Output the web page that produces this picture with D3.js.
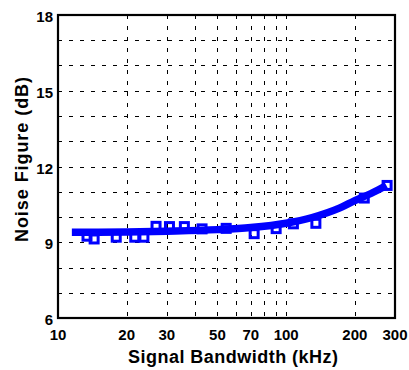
<!DOCTYPE html>
<html><head><meta charset="utf-8">
<script src="https://cdn.jsdelivr.net/npm/d3@7"></script>
<style>html,body{margin:0;padding:0;background:#fff;}svg{display:block;}</style>
</head><body>
<script>
// Measured data (squares)
const measFreq = [13.4, 14.4, 18, 21.7, 23.8, 26.9, 30.8, 35.8, 42.8, 54.6, 72.4, 90.4, 107.6, 135, 220, 277];
const measNF   = [9.24, 9.13, 9.2, 9.2, 9.2, 9.63, 9.62, 9.62, 9.53, 9.55, 9.34, 9.54, 9.73, 9.75, 10.75, 11.25];
// Fitted curve
const fitFreq = [11.5, 15, 20, 30, 50, 70, 100, 130, 170, 200, 240, 275];
const fitNF   = [9.4, 9.4, 9.41, 9.44, 9.5, 9.58, 9.75, 9.98, 10.34, 10.65, 10.97, 11.25];
// Axes
const xTickLabels = [10, 20, 30, 50, 70, 100, 200, 300];
const xGrid = [20, 30, 40, 50, 60, 70, 80, 90, 100, 200];
const yTickLabels = [6, 9, 12, 15, 18];
const yGrid = [7, 8, 9, 10, 11, 12, 13, 14, 15, 16, 17];

const W = 409, H = 370;
const L = 58, R = 395, T = 15, B = 318;
const svg = d3.select("body").append("svg").attr("width", W).attr("height", H);
const x = d3.scaleLog().domain([10, 300]).range([L, R]);
const y = d3.scaleLinear().domain([6, 18]).range([B, T]);
const font = "'Liberation Sans', Arial, Helvetica, sans-serif";

// grid
const g = svg.append("g").attr("stroke", "#000").attr("stroke-width", 1).attr("stroke-dasharray", "4,7");
g.selectAll("line.v").data(xGrid).join("line").attr("class","v")
  .attr("x1", d => Math.round(x(d)) + 0.5).attr("x2", d => Math.round(x(d)) + 0.5)
  .attr("y1", T).attr("y2", B);
g.selectAll("line.h").data(yGrid).join("line").attr("class","h")
  .attr("y1", d => Math.round(y(d)) + 0.5).attr("y2", d => Math.round(y(d)) + 0.5)
  .attr("x1", L).attr("x2", R);

// fit line
const line = d3.line().x((d,i) => x(fitFreq[i])).y((d,i) => y(fitNF[i])).curve(d3.curveMonotoneX);
svg.append("path").datum(fitNF).attr("d", line)
  .attr("fill", "none").attr("stroke", "#0000ff").attr("stroke-width", 7.5);

// squares
svg.selectAll("rect.m").data(measNF).join("rect").attr("class","m")
  .attr("x", (d,i) => x(measFreq[i]) - 4).attr("y", d => y(d) - 4)
  .attr("width", 8).attr("height", 8)
  .attr("fill", "none").attr("stroke", "#0000ff").attr("stroke-width", 3);

// frame
svg.append("rect").attr("x", L).attr("y", T).attr("width", R - L).attr("height", B - T)
  .attr("fill", "none").attr("stroke", "#000").attr("stroke-width", 2.2);

// x tick labels
svg.selectAll("text.xt").data(xTickLabels).join("text").attr("class","xt")
  .attr("x", d => x(d)).attr("y", 340)
  .attr("text-anchor", "middle").attr("font-family", font).attr("font-weight", "bold")
  .attr("font-size", 15).text(d => d);

// y tick labels
svg.selectAll("text.yt").data(yTickLabels).join("text").attr("class","yt")
  .attr("x", 53).attr("y", d => y(d) + 7)
  .attr("text-anchor", "end").attr("font-family", font).attr("font-weight", "bold")
  .attr("font-size", 15).text(d => d);

// axis titles
svg.append("text").attr("x", 233).attr("y", 363).attr("text-anchor", "middle")
  .attr("font-family", font).attr("font-weight", "bold").attr("font-size", 18)
  .attr("textLength", 210).attr("lengthAdjust", "spacing")
  .text("Signal Bandwidth (kHz)");
svg.append("text").attr("transform", "translate(28,159.5) rotate(-90)").attr("text-anchor", "middle")
  .attr("font-family", font).attr("font-weight", "bold").attr("font-size", 18)
  .attr("textLength", 165).attr("lengthAdjust", "spacing")
  .text("Noise Figure (dB)");
</script>
</body></html>
